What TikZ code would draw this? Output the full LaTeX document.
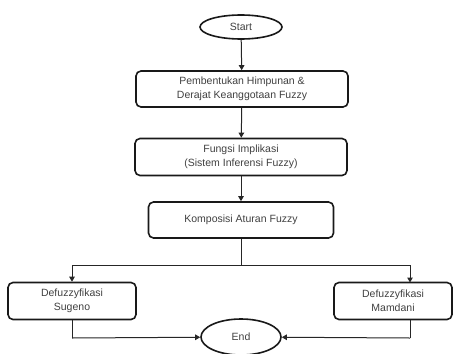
\documentclass[tikz,border=0pt]{standalone}
\usepackage{fontspec}
\setmainfont{Liberation Sans}
\usetikzlibrary{shapes.geometric,arrows.meta}
\begin{document}
\begin{tikzpicture}[x=1pt,y=-1pt,
  every node/.style={font=\fontsize{10.5}{14}\selectfont, text=black!75},
  procbox/.style={draw=black!90, line width=1.6pt, rounded corners=5pt, align=center, inner sep=0pt},
  term/.style={draw=black!90, line width=1.6pt, ellipse, inner sep=0pt},
  conn/.style={draw=black!85, line width=1pt, -{Triangle[length=5pt,width=5.5pt]}},
  plain/.style={draw=black!85, line width=1pt}]
\useasboundingbox (0,0) rectangle (454,353);
\node[term, minimum width=82, minimum height=24] (start) at (241,27) {Start};
\node[procbox, minimum width=212, minimum height=36] (b1) at (242,89) {Pembentukan Himpunan \&\\Derajat Keanggotaan Fuzzy};
\node[procbox, minimum width=212, minimum height=37] (b2) at (241,157) {Fungsi Implikasi\\(Sistem Inferensi Fuzzy)};
\node[procbox, minimum width=185, minimum height=36] (b3) at (241,220) {Komposisi Aturan Fuzzy};
\node[procbox, minimum width=128, minimum height=37] (sug) at (72,301) {Defuzzyfikasi\\Sugeno};
\node[procbox, minimum width=118, minimum height=37] (mam) at (393,301) {Defuzzyfikasi\\Mamdani};
\node[term, minimum width=80, minimum height=36] (end) at (241,337) {End};
\coordinate (split) at (241,265);
\coordinate (sl) at (72,265);
\coordinate (sr) at (410,265);
\coordinate (mt) at (410,282.5);
\coordinate (mb) at (410,319.5);
\coordinate (lb) at (72,338);
\coordinate (rb) at (410,338);
\draw[conn] (start) -- (b1);
\draw[conn] (b1) -- (b2);
\draw[conn] (b2) -- (b3);
\draw[plain] (b3) -- (split);
\draw[conn] (sl) -- (sug);
\draw[plain] (sl) -- (sr);
\draw[conn] (sr) -- (mt);
\draw[plain] (sug) -- (lb);
\draw[conn] (lb) -- (end);
\draw[plain] (mb) -- (rb);
\draw[conn] (rb) -- (end);
\end{tikzpicture}
\end{document}
